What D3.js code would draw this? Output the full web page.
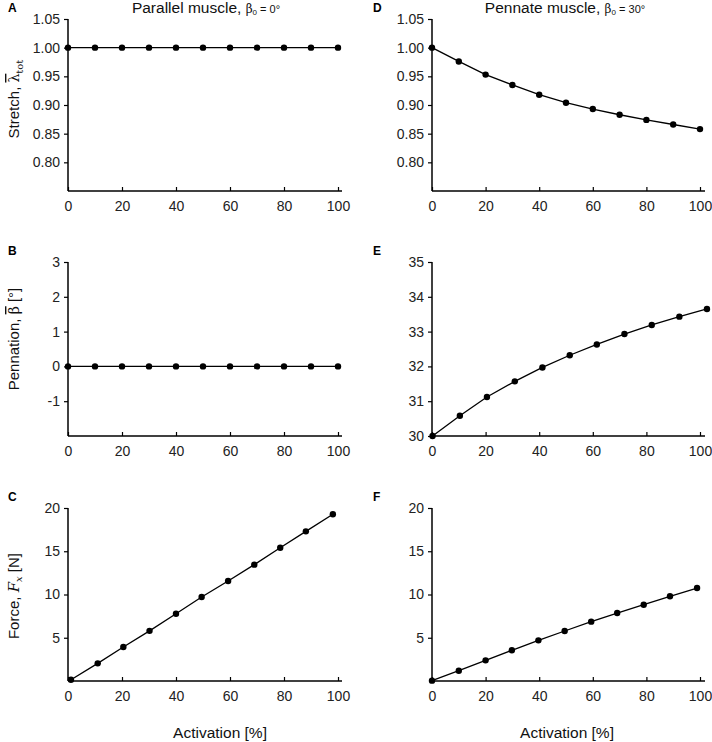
<!DOCTYPE html>
<html>
<head>
<meta charset="utf-8">
<script src="https://cdn.jsdelivr.net/npm/d3@7"></script>
<style>
  body { margin: 0; background: #fff; }
  svg { font-family: "Liberation Sans", Arial, sans-serif; }
</style>
</head>
<body>
<div id="chart"></div>
<script>
// activation (%) for each simulated point
const actA = [0, 10, 20, 30, 40, 50, 60, 70, 80, 90, 100];
const stretchA = [1, 1, 1, 1, 1, 1, 1, 1, 1, 1, 1];
const actB = [0, 10, 20, 30, 40, 50, 60, 70, 80, 90, 100];
const pennB = [0, 0, 0, 0, 0, 0, 0, 0, 0, 0, 0];
const actC = [1.1, 11, 20.5, 30.2, 40, 49.5, 59.3, 69, 78.6, 88.1, 98.1];
const forceC = [0.15, 2.04, 3.93, 5.8, 7.78, 9.71, 11.56, 13.45, 15.41, 17.3, 19.27];

const actD = [0, 10, 20, 30, 40, 50, 60, 70, 80, 90, 100];
const stretchD = [1.0, 0.976, 0.953, 0.935, 0.918, 0.904, 0.893, 0.883, 0.874, 0.866, 0.858];
const actE = [0.2, 10.4, 20.5, 30.9, 41.2, 51.4, 61.5, 71.8, 82, 92.3, 102.6];
const pennE = [30.0, 30.58, 31.12, 31.57, 31.97, 32.32, 32.63, 32.93, 33.19, 33.43, 33.65];
const actF = [0, 10, 20, 29.8, 39.7, 49.5, 59.4, 69.1, 79, 88.8, 98.9];
const forceF = [0.04, 1.19, 2.39, 3.55, 4.7, 5.78, 6.86, 7.86, 8.82, 9.79, 10.75];

const xTicks = [0, 20, 40, 60, 80, 100];
const stretchTicks = [0.80, 0.85, 0.90, 0.95, 1.00, 1.05];
const pennParTicks = [-1, 0, 1, 2, 3];
const pennPenTicks = [30, 31, 32, 33, 34, 35];
const forceTicks = [5, 10, 15, 20];

const svg = d3.select("#chart").append("svg")
    .attr("width", 712)
    .attr("height", 742);

// column / row geometry
const cols = [{x0: 68, x1: 338, end: 342}, {x0: 432, x1: 700, end: 705}];
const rows = [{top: 19, bottom: 191}, {top: 262, bottom: 436}, {top: 508, bottom: 681}];

const fmt2 = d => d.toFixed(2);
const fmtInt = d => String(d); // plain hyphen for negatives, like the original

const panels = [
    {letter: "A", col: 0, row: 0, xs: actA, ys: stretchA, dom: [0.75, 1.05], ticks: stretchTicks, fmt: fmt2},
    {letter: "B", col: 0, row: 1, xs: actB, ys: pennB, dom: [-2, 3], ticks: pennParTicks, fmt: fmtInt},
    {letter: "C", col: 0, row: 2, xs: actC, ys: forceC, dom: [0, 20], ticks: forceTicks, fmt: fmtInt},
    {letter: "D", col: 1, row: 0, xs: actD, ys: stretchD, dom: [0.75, 1.05], ticks: stretchTicks, fmt: fmt2},
    {letter: "E", col: 1, row: 1, xs: actE, ys: pennE, dom: [30, 35], ticks: pennPenTicks, fmt: fmtInt},
    {letter: "F", col: 1, row: 2, xs: actF, ys: forceF, dom: [0, 20], ticks: forceTicks, fmt: fmtInt}
];

panels.forEach(p => {
    const c = cols[p.col], r = rows[p.row];
    const x = d3.scaleLinear().domain([0, 100]).range([c.x0, c.x1]);
    const y = d3.scaleLinear().domain(p.dom).range([r.bottom, r.top]);
    const g = svg.append("g");

    // y axis (ticks outward)
    const ya = g.append("g")
        .attr("transform", `translate(${c.x0},0)`)
        .call(d3.axisLeft(y).tickValues(p.ticks).tickFormat(p.fmt).tickSizeOuter(0).tickSize(4).tickPadding(4));
    ya.select(".domain").remove();
    ya.append("line").attr("x1", 0).attr("x2", 0).attr("y1", r.top).attr("y2", r.bottom)
        .attr("stroke", "#000").attr("stroke-width", 1.5);

    // x axis (ticks inward)
    const xa = g.append("g")
        .attr("transform", `translate(0,${r.bottom})`)
        .call(d3.axisBottom(x).tickValues(xTicks).tickFormat(fmtInt).tickSizeOuter(0).tickSize(-4).tickPadding(10));
    xa.select(".domain").remove();
    xa.append("line").attr("x1", c.x0).attr("x2", c.end).attr("y1", 0).attr("y2", 0)
        .attr("stroke", "#000").attr("stroke-width", 1.5);

    [ya, xa].forEach(a => {
        a.selectAll("text").attr("font-size", 14).attr("fill", "#222")
            .attr("font-family", "Liberation Sans, Arial, sans-serif");
        a.selectAll(".tick line").attr("stroke", "#000").attr("stroke-width", 1.2);
    });

    const pts = p.xs.map((v, i) => [v, p.ys[i]]);
    g.append("path").datum(pts)
        .attr("fill", "none").attr("stroke", "#000").attr("stroke-width", 1.3)
        .attr("d", d3.line().x(d => x(d[0])).y(d => y(d[1])));
    g.selectAll("circle").data(pts).join("circle")
        .attr("cx", d => x(d[0])).attr("cy", d => y(d[1])).attr("r", 3.2).attr("fill", "#000");

    svg.append("text")
        .attr("x", p.col === 0 ? 8 : 373).attr("y", r.top - 7)
        .attr("font-size", 12).attr("font-weight", "bold").text(p.letter);
});

// column titles
function title(cx, main, b0) {
    const t = svg.append("text").attr("x", cx).attr("y", 13).attr("text-anchor", "middle")
        .attr("font-size", 15.5).attr("fill", "#111");
    t.append("tspan").text(main);
    t.append("tspan").attr("font-size", 12).attr("font-family", "DejaVu Serif, serif").text("β");
    t.append("tspan").attr("font-size", 8).attr("dy", 2).text("0");
    t.append("tspan").attr("font-size", 11).attr("dy", -2).text(" = " + b0 + "°");
}
title(206, "Parallel muscle, ", 0);
title(565, "Pennate muscle, ", 30);

// y labels
function ylabel(cy, build) {
    const t = svg.append("text")
        .attr("transform", `translate(19,${cy}) rotate(-90)`)
        .attr("text-anchor", "middle").attr("font-size", 15).attr("fill", "#111");
    build(t);
}
ylabel(99, t => {
    t.append("tspan").text("Stretch, ");
    t.append("tspan").attr("font-family", "DejaVu Serif, serif").attr("font-size", 14)
        .attr("text-decoration", "overline").text("λ");
    t.append("tspan").attr("font-size", 10).attr("dy", 4).attr("font-family", "DejaVu Serif, serif").text("tot");
});
ylabel(339, t => {
    t.append("tspan").text("Pennation, ");
    t.append("tspan").attr("font-family", "DejaVu Serif, serif").attr("font-size", 14)
        .attr("text-decoration", "overline").text("β");
    t.append("tspan").text(" [°]");
});
ylabel(596, t => {
    t.append("tspan").text("Force, ");
    t.append("tspan").attr("font-family", "DejaVu Serif, serif").attr("font-style", "italic").text("F");
    t.append("tspan").attr("font-family", "DejaVu Serif, serif").attr("font-style", "italic")
        .attr("font-size", 10).attr("dy", 3).text("x");
    t.append("tspan").attr("dy", -3).text(" [N]");
});

// x labels
[[220, "Activation [%]"], [567, "Activation [%]"]].forEach(([cx, s]) => {
    svg.append("text").attr("x", cx).attr("y", 738).attr("text-anchor", "middle")
        .attr("font-size", 15.5).attr("fill", "#111").text(s);
});
</script>
</body>
</html>
